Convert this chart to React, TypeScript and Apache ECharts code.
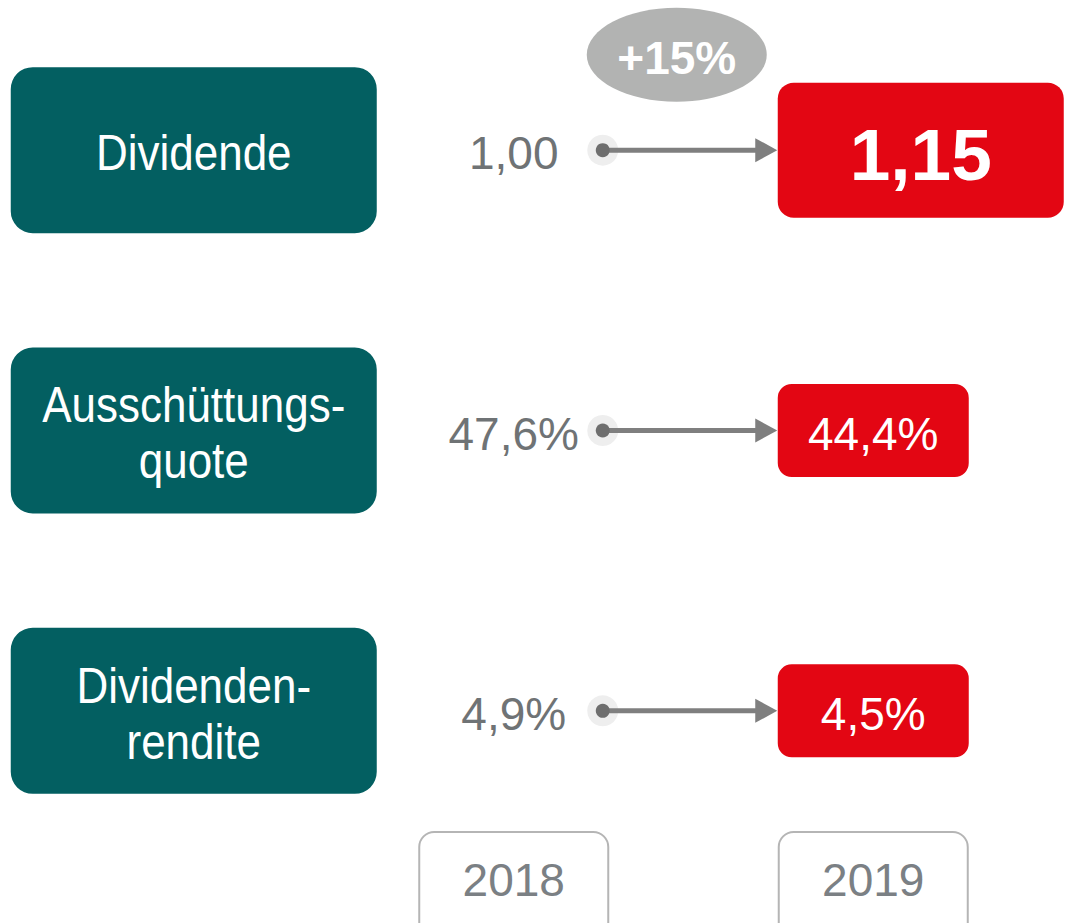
import React, { useEffect, useRef } from "react";
import * as echarts from "echarts";

const categories = ["Dividende", "Ausschüttungs-\nquote", "Dividenden-\nrendite"];
const years = ["2018", "2019"];
const values2018 = [1.0, 47.6, 4.9];
const values2019 = [1.15, 44.4, 4.5];
const units = ["", "%", "%"];
const decimals = [2, 1, 1];

const FONT = "'Liberation Sans', Arial, sans-serif";
const TEAL = "#035F61";
const RED = "#E30613";
const GREY_TEXT = "#6F7375";
const ARROW = "#7F7F7F";

const fmt = (v: number, i: number) => v.toFixed(decimals[i]).replace(".", ",") + units[i];

export default function App() {
  const ref = useRef<HTMLDivElement>(null);
  useEffect(() => {
    const chart = echarts.init(ref.current!, undefined, { renderer: "svg" });
    const change = Math.round((values2019[0] / values2018[0] - 1) * 100);
    const changeLabel = (change >= 0 ? "+" : "") + change + "%";
    chart.setOption({
      animation: false,
      textStyle: { fontFamily: FONT },
      grid: { left: 334, right: 12, top: 10, bottom: 72, containLabel: false, outerBoundsMode: "none" },
      xAxis: {
        type: "category",
        data: years,
        axisLine: { show: false },
        axisTick: { show: false },
        axisLabel: {
          margin: -18,
          fontSize: 46,
          lineHeight: 46,
          color: "#7B8084",
          fontFamily: FONT,
          width: 187,
          align: "center",
          padding: [24, 0, 40, 0],
          borderColor: "#B5B5B5",
          borderWidth: 2,
          borderRadius: 14,
          backgroundColor: "#FFFFFF",
        },
      },
      yAxis: {
        type: "category",
        data: categories,
        inverse: true,
        show: false,
      },
      series: [
        {
          type: "custom",
          clip: false,
          data: categories.map((_, i) => [0, i]),
          renderItem: (params: any, api: any) => {
            const row = api.value(1) as number;
            const p0 = api.coord([0, row]);
            const p1 = api.coord([1, row]);
            const x0 = p0[0];
            const x1 = p1[0];
            const cy = p0[1];
            const children: any[] = [];
            // category box
            children.push({
              type: "rect",
              shape: { x: x0 - 503, y: cy - 83, width: 366, height: 166, r: 22 },
              style: { fill: TEAL },
            });
            children.push({
              type: "text",
              x: x0 - 320,
              y: cy + 3,
              scaleY: 1.12,
              style: {
                text: categories[row],
                fill: "#FFFFFF",
                fontSize: 44,
                lineHeight: 50,
                fontFamily: FONT,
                align: "center",
                verticalAlign: "middle",
              },
            });
            // 2018 value
            children.push({
              type: "text",
              x: x0,
              y: cy + 3,
              style: {
                text: fmt(values2018[row], row),
                fill: GREY_TEXT,
                fontSize: 46,
                fontFamily: FONT,
                align: "center",
                verticalAlign: "middle",
              },
            });
            // dot with halo
            children.push({
              type: "circle",
              shape: { cx: x0 + 89, cy, r: 15.5 },
              style: { fill: "#EEEEEE" },
            });
            // arrow line
            children.push({
              type: "line",
              shape: { x1: x0 + 89, y1: cy, x2: x1 - 115, y2: cy },
              style: { stroke: ARROW, lineWidth: 5 },
            });
            children.push({
              type: "circle",
              shape: { cx: x0 + 89, cy, r: 7 },
              style: { fill: "#6E6E6E" },
            });
            children.push({
              type: "polygon",
              shape: {
                points: [
                  [x1 - 118, cy - 12],
                  [x1 - 96, cy],
                  [x1 - 118, cy + 12],
                ],
              },
              style: { fill: ARROW },
            });
            // 2019 value box
            if (row === 0) {
              children.push({
                type: "rect",
                shape: { x: x1 - 95.5, y: cy - 67.5, width: 286, height: 135, r: 16 },
                style: { fill: RED },
              });
              children.push({
                type: "text",
                x: x1 + 47.5,
                y: cy + 4,
                style: {
                  text: fmt(values2019[row], row),
                  fill: "#FFFFFF",
                  fontSize: 73,
                  fontWeight: "bold",
                  fontFamily: FONT,
                  align: "center",
                  verticalAlign: "middle",
                },
              });
              // change ellipse
              children.push({
                type: "ellipse",
                shape: { cx: x0 + 163, cy: cy - 95.5, rx: 90, ry: 47 },
                style: { fill: "#B2B3B2" },
              });
              children.push({
                type: "text",
                x: x0 + 163,
                y: cy - 92,
                style: {
                  text: changeLabel,
                  fill: "#FFFFFF",
                  fontSize: 46,
                  fontWeight: "bold",
                  fontFamily: FONT,
                  align: "center",
                  verticalAlign: "middle",
                },
              });
            } else {
              children.push({
                type: "rect",
                shape: { x: x1 - 95.5, y: cy - 46.5, width: 191, height: 93, r: 14 },
                style: { fill: RED },
              });
              children.push({
                type: "text",
                x: x1,
                y: cy + 3,
                style: {
                  text: fmt(values2019[row], row),
                  fill: "#FFFFFF",
                  fontSize: 46,
                  fontFamily: FONT,
                  align: "center",
                  verticalAlign: "middle",
                },
              });
            }
            return { type: "group", children };
          },
        },
      ],
    });
    return () => chart.dispose();
  }, []);
  return (
    <div
      ref={ref}
      style={{ position: "absolute", left: 0, top: 0, width: 1065, height: 923, background: "#FFFFFF" }}
    />
  );
}
